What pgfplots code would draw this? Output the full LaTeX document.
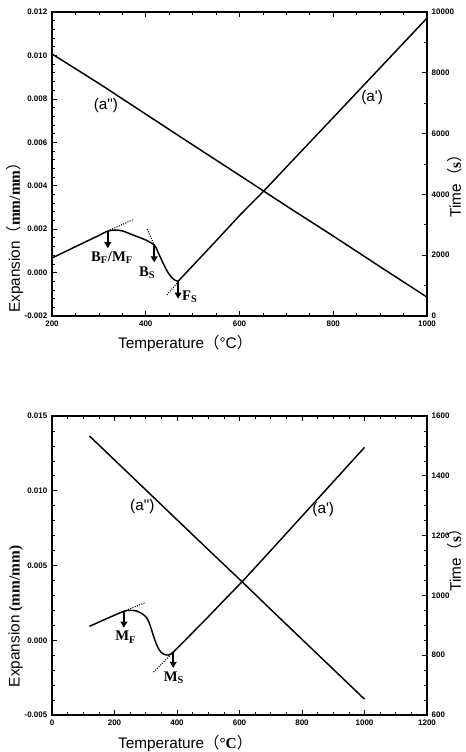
\documentclass[border=0pt]{standalone}
\usepackage{fontspec}
\setmainfont{Liberation Sans}
\newfontfamily\tnr{Liberation Serif}
\newfontfamily\cjk{Noto Sans CJK SC}
\usepackage{pgfplots}
\pgfplotsset{compat=1.18}
\usetikzlibrary{arrows.meta}

\pgfplotsset{
  dil/.style={
    scale only axis, width=281.25pt,
    tick align=inside,
    tick style={black, line width=0.5pt},
    major tick length=4pt, minor tick length=2pt,
    axis line style={line width=0.8pt},
    ticklabel style={font=\fontsize{6}{7}\selectfont\bfseries},
    /pgf/number format/assume math mode=true,
    /pgf/number format/1000 sep={},
    scaled y ticks=false,
    label style={font=\fontsize{11.5}{13}\selectfont},
    clip=false,
  },
  curve/.style={black, line width=1.1pt, no marks},
  tang/.style={black, line width=0.8pt, densely dotted, no marks},
  darrow/.style={black, line width=1.6pt, no marks, -{Triangle[length=4.5pt,width=5pt]}},
  expfmt/.style={yticklabel style={/pgf/number format/.cd, fixed, fixed zerofill, precision=3}},
}
\newcommand{\mk}[2]{{\tnr\bfseries\fontsize{11}{12}\selectfont #1\textsubscript{#2}}}

\begin{document}
\begin{tikzpicture}
\useasboundingbox (-39pt,-327pt) rectangle (310.5pt,237pt);

% ---------- upper chart ----------
\begin{axis}[dil, expfmt, height=228pt, at={(0,0)}, anchor=south west,
  xmin=200, xmax=1000, ymin=-0.002, ymax=0.012,
  xtick={200,400,600,800,1000}, minor x tick num=3,
  ytick={-0.002,0,0.002,0.004,0.006,0.008,0.010,0.012}, minor y tick num=4,
  ytick pos=left, xtick pos=both,
  xlabel={Temperature{\cjk （}°C{\cjk ）}},
  xlabel style={at={(axis description cs:0.355,-0.089)}, anchor=center},
  ylabel={Expansion{\cjk （}{\tnr\bfseries mm/mm}{\cjk ）}},
  ylabel style={at={(axis description cs:-0.099,0.27)}, anchor=center},
]
% dilatation curve and heating line
\addplot[curve, smooth, tension=0.4] coordinates {
  (200,0.00067) (250,0.00119) (300,0.00171) (319,0.00191) (334,0.00196)
  (350,0.00192) (373,0.00173) (400,0.00150) (418,0.00127) (425,0.00100)
  (432,0.00066) (440,0.00030) (448,-0.00002) (456,-0.00024) (463,-0.00036)
  (469,-0.00040)
};
\addplot[curve] coordinates {
  (469,-0.00040) (500,0.00031) (550,0.00146) (601,0.00265) (652,0.00376)
  (700,0.00486) (800,0.00714) (900,0.00943) (1000,0.01172)
};
% tangents
\addplot[tang] coordinates {(319,0.00191) (372,0.00243)};
\addplot[tang] coordinates {(403,0.00200) (420,0.00118)};
\addplot[tang] coordinates {(445,-0.00103) (469,-0.00043)};
% transformation points
\addplot[darrow] coordinates {(319,0.00191) (319,0.00112)};
\addplot[darrow] coordinates {(418,0.00127) (418,0.00047)};
\addplot[darrow] coordinates {(469,-0.00036) (469,-0.00120)};
\node at (axis cs:328,0.00067) {\mk{B}{F}{\tnr\bfseries\fontsize{11}{12}\selectfont/}\mk{M}{F}};
\node at (axis cs:403,0.00000) {\mk{B}{S}};
\node at (axis cs:494,-0.00112) {\mk{F}{S}};
\node[font=\fontsize{11.5}{13}\selectfont] at (axis cs:315,0.00767) {(a\textquotedbl)};
\node[font=\fontsize{11.5}{13}\selectfont] at (axis cs:883,0.00808) {(a\textquotesingle)};
\end{axis}

\begin{axis}[dil, height=228pt, at={(0,0)}, anchor=south west,
  xmin=200, xmax=1000, ymin=0, ymax=10000,
  axis x line=none, axis y line*=right,
  ytick={0,2000,4000,6000,8000,10000}, minor y tick num=1,
  ylabel={Time{\cjk （}{\tnr\bfseries s}{\cjk ）}},
  ylabel style={at={(axis description cs:1.075,0.44)}, anchor=center},
]
\addplot[curve] coordinates {
  (200,8620) (300,7650) (400,6640) (500,5630) (600,4630)
  (700,3620) (800,2630) (900,1620) (1000,620)
};
\end{axis}

% ---------- lower chart ----------
\begin{axis}[dil, expfmt, height=224.25pt, at={(0,-299.25pt)}, anchor=south west,
  xmin=0, xmax=1200, ymin=-0.005, ymax=0.015,
  xtick={0,200,400,600,800,1000,1200}, minor x tick num=3,
  ytick={-0.005,0,0.005,0.010,0.015}, minor y tick num=4,
  ytick pos=left, xtick pos=both,
  xlabel={Temperature{\cjk （}{\tnr\bfseries °C}{\cjk ）}},
  xlabel style={at={(axis description cs:0.355,-0.094)}, anchor=center},
  ylabel={Expansion {\tnr\bfseries (mm/mm)}},
  ylabel style={at={(axis description cs:-0.097,0.33)}, anchor=center},
]
\addplot[curve, smooth, tension=0.4] coordinates {
  (120,0.00093) (170,0.00140) (229,0.00193) (250,0.00200) (270,0.00196)
  (285,0.00182) (300,0.00158) (309,0.00127) (317,0.00080) (325,0.00027)
  (333,-0.00020) (341,-0.00058) (350,-0.00082) (360,-0.00095) (373,-0.00099)
  (388,-0.00080)
};
\addplot[curve] coordinates {
  (388,-0.00080) (450,0.00051) (500,0.00157) (550,0.00266) (610,0.00395)
  (700,0.00600) (800,0.00830) (900,0.01060) (1000,0.01290)
};
\addplot[tang] coordinates {(229,0.00193) (299,0.00253)};
\addplot[tang] coordinates {(325,-0.00213) (388,-0.00080)};
\addplot[darrow] coordinates {(230,0.00193) (230,0.00084)};
\addplot[darrow] coordinates {(388,-0.00080) (388,-0.00185)};
\node at (axis cs:236,0.00020) {\mk{M}{F}};
\node at (axis cs:390,-0.00250) {\mk{M}{S}};
\node[font=\fontsize{11.5}{13}\selectfont] at (axis cs:289,0.00893) {(a\textquotedbl)};
\node[font=\fontsize{11.5}{13}\selectfont] at (axis cs:868,0.00873) {(a\textquotesingle)};
\end{axis}

\begin{axis}[dil, height=224.25pt, at={(0,-299.25pt)}, anchor=south west,
  xmin=0, xmax=1200, ymin=600, ymax=1600,
  axis x line=none, axis y line*=right,
  ytick={600,800,1000,1200,1400,1600}, minor y tick num=3,
  ylabel={Time{\cjk （}{\tnr\bfseries s}{\cjk ）}},
  ylabel style={at={(axis description cs:1.075,0.53)}, anchor=center},
]
\addplot[curve] coordinates {
  (120,1533) (300,1353) (500,1153) (614,1040) (700,953) (1000,653)
};
\end{axis}
\end{tikzpicture}
\end{document}
